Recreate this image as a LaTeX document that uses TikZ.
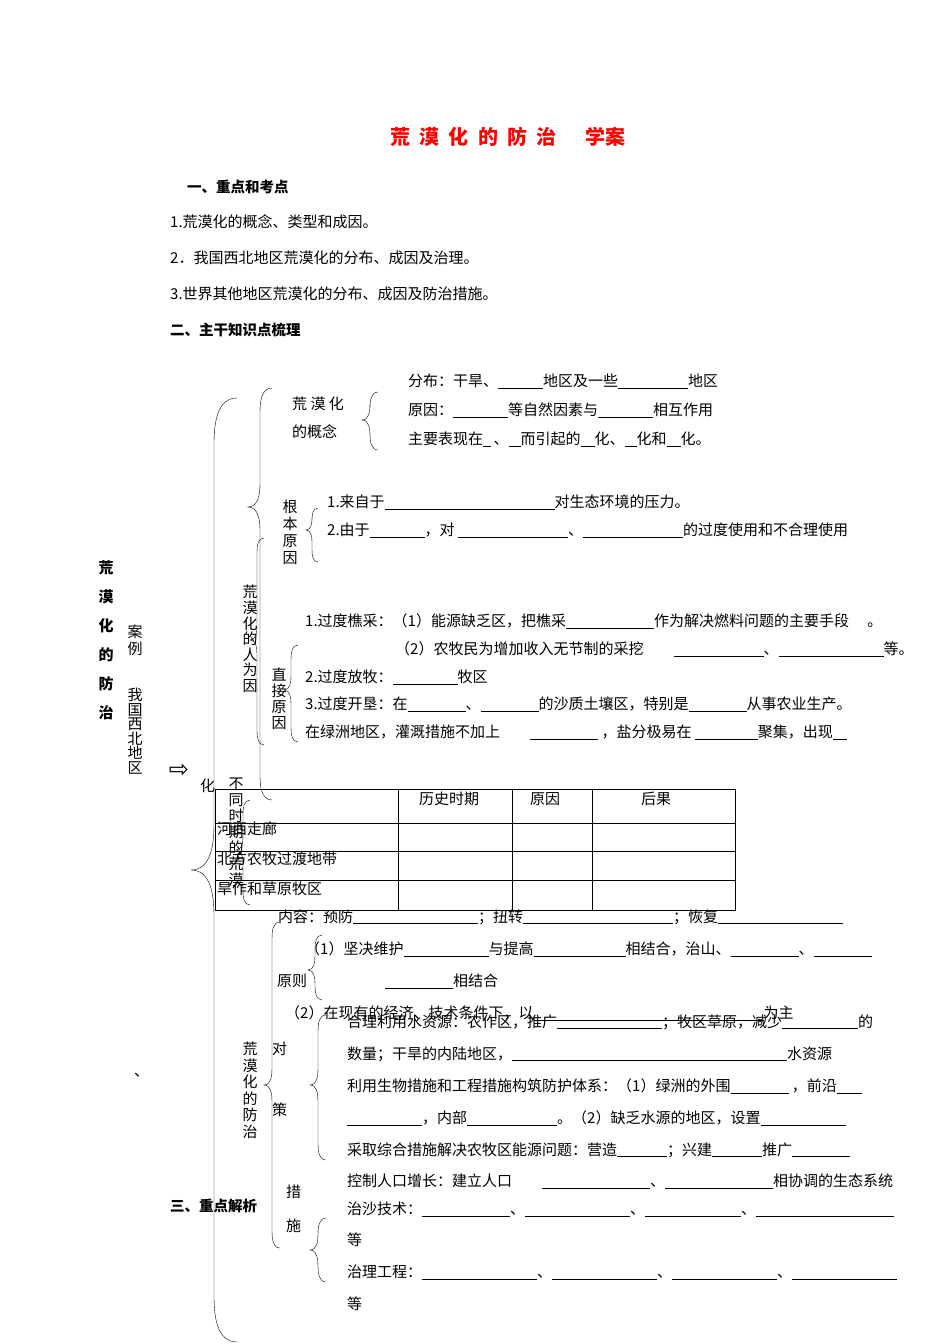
\documentclass[tikz,border=0pt]{standalone}
\usepackage{fontspec}
\setmainfont{Noto Sans CJK SC}
\newfontfamily\djv{DejaVu Sans}
\newcommand\bl[1]{\rule[-2pt]{#1pt}{0.7pt}}
\newcommand\mybrace[5]{\draw[thin] ({#1},{-(#2)}) to[out=180,in=90] ({#1-#5/2},{-(#2)-#5}) -- ({#1-#5/2},{-(#3)+#5}) to[out=-90,in=0] ({#1-#5},{-(#3)}) to[out=0,in=90] ({#1-#5/2},{-(#3)-#5}) -- ({#1-#5/2},{-(#4)+#5}) to[out=-90,in=180] ({#1},{-(#4)});}
\tikzset{tx/.style={anchor=west,inner sep=0pt,font=\fontsize{15}{16}\selectfont},
 hd/.style={tx,font=\fontsize{14.5}{16}\selectfont\bfseries},
 vt/.style={anchor=north,inner sep=0pt,align=center,font=\fontsize{15}{15.5}\selectfont}}
\begin{document}
\begin{tikzpicture}[x=1pt,y=1pt]
\useasboundingbox[fill=white] (0,0) rectangle (950,-1344);
\node[anchor=center,inner sep=0pt,text=red,font=\fontsize{20}{22}\selectfont\bfseries] (title) at (508,-137) {荒\ \ 漠\ \ 化\ \ 的\ \ 防\ \ 治\quad\ \ 学案};
\node[hd] (h1) at (187,-187) {一、重点和考点};
\node[tx] (p1) at (170,-222) {1.荒漠化的概念、类型和成因。};
\node[tx] (p2) at (170,-258) {2．我国西北地区荒漠化的分布、成因及治理。};
\node[tx] (p3) at (170,-294) {3.世界其他地区荒漠化的分布、成因及防治措施。};
\node[hd] (h2) at (170,-330) {二、主干知识点梳理};
\node[vt,font=\fontsize{15}{29}\selectfont\bfseries] (main) at (106,-560) {荒\\漠\\化\\的\\防\\治};
\node[vt,font=\fontsize{15}{17}\selectfont] (case) at (135,-625) {案\\例};
\node[vt,font=\fontsize{15}{14.5}\selectfont] (region) at (135,-688) {我\\国\\西\\北\\地\\区};
\node[anchor=center,inner sep=0pt,font=\djv\fontsize{24}{24}\selectfont] (arr) at (179,-771) {⇨};
% braces
\mybrace{237}{398}{870}{1342}{46}
\mybrace{272}{388}{507}{800}{24}
\mybrace{378}{392}{420}{450}{16}
\mybrace{318}{508}{530}{562}{12}
\mybrace{264}{538}{640}{745}{14}
\mybrace{298}{645}{690}{742}{14}
\mybrace{250}{800}{850}{905}{14}
\mybrace{280}{922}{1085}{1248}{16}
\mybrace{322}{935}{970}{1000}{14}
\mybrace{326}{1015}{1085}{1160}{16}
\mybrace{326}{1218}{1250}{1282}{16}
% concept
\node[tx] (c1) at (292,-404) {荒 漠 化};
\node[tx] (c2) at (292,-432) {的概念};
\node[tx] (d1) at (408,-381) {分布：干旱、\bl{45}地区及一些\bl{70}地区};
\node[tx] (d2) at (408,-410) {原因：\bl{55}等自然因素与\bl{55}相互作用};
\node[tx] (d3) at (408,-439) {主要表现在\bl{8}\,、\bl{12}而引起的\bl{14}化、\bl{12}化和\bl{14}化。};
\node[vt,font=\fontsize{15}{17}\selectfont] (gen) at (290,-500) {根\\本\\原\\因};
\node[tx] (g1) at (327,-502) {1.来自于\bl{170}对生态环境的压力。};
\node[tx] (g2) at (327,-530) {2.由于\bl{55}，对 \bl{110}、\bl{100}的过度使用和不合理使用};
\node[vt,font=\fontsize{15}{15.6}\selectfont] (ren) at (250,-585) {荒\\漠\\化\\的\\人\\为\\因};
\node[tx] (r1) at (305,-621) {1.过度樵采：（1）能源缺乏区，把樵采\bl{88}作为解决燃料问题的主要手段\quad\ 。};
\node[tx] (r2) at (395,-649) {（2）农牧民为增加收入无节制的采挖\qquad\bl{90}、\bl{105}等。};
\node[vt,font=\fontsize{15}{16}\selectfont] (zhi) at (279,-668) {直\\接\\原\\因};
\node[tx] (r3) at (305,-677) {2.过度放牧：\bl{65}牧区};
\node[tx] (r4) at (305,-704) {3.过度开垦：在\bl{58}、\bl{58}的沙质土壤区，特别是\bl{58}从事农业生产。};
\node[tx] (r5) at (305,-732) {在绿洲地区，灌溉措施不加上\qquad\bl{68}\ ，盐分极易在 \bl{63}聚集，出现\bl{14}};
% table
\node[tx] (hua) at (200,-786) {化};
\draw[thin] (215,-789) rectangle (735,-910);
\foreach \yy in {823,851,880} \draw[thin] (215,-\yy) -- (735,-\yy);
\foreach \xx in {398,512,592} \draw[thin] (\xx,-789) -- (\xx,-910);
\node[anchor=center,inner sep=0pt,font=\fontsize{15}{16}\selectfont] (t1) at (449,-799) {历史时期};
\node[anchor=center,inner sep=0pt,font=\fontsize{15}{16}\selectfont] (t2) at (545,-799) {原因};
\node[anchor=center,inner sep=0pt,font=\fontsize{15}{16}\selectfont] (t3) at (656,-799) {后果};
\node[tx] (t4) at (217,-829) {河西走廊};
\node[tx] (t5) at (217,-859) {北方农牧过渡地带};
\node[tx] (t6) at (217,-889) {旱作和草原牧区};
\node[vt,font=\fontsize{15}{16}\selectfont] (btq) at (236,-778) {不\\同\\时\\期\\的\\荒\\漠};
% prevention
\node[tx] (n1) at (278,-917) {内容：预防\bl{125}；扭转\bl{150}；恢复\bl{125}};
\node[tx] (y1) at (305,-949) {（1）坚决维护\bl{85}与提高\bl{92}相结合，治山、\bl{68}、\bl{58}};
\node[tx] (y2) at (385,-981) {\bl{68}相结合};
\node[tx] (yz) at (277,-981) {原则};
\node[tx] (y3) at (285,-1013) {（2）在现有的经济、技术条件下，以\bl{230}为主};
\node[tx] (w1) at (347,-1022) {合理利用水资源：农作区，推广\bl{105}；牧区草原，减少\bl{76}的};
\node[tx] (w2) at (347,-1054) {数量；干旱的内陆地区，\bl{275}水资源};
\node[vt,font=\fontsize{15}{16.5}\selectfont] (fz) at (250,-1042) {荒\\漠\\化\\的\\防\\治};
\node[tx] (dui) at (272,-1049) {对};
\node[tx] (ce) at (272,-1110) {策};
\node[tx] (w3) at (347,-1086) {利用生物措施和工程措施构筑防护体系：（1）绿洲的外围\bl{58}\ ，前沿\bl{25}};
\node[tx] (w4) at (347,-1118) {\bl{75}，内部\bl{90}。（2）缺乏水源的地区，设置\bl{85}};
\node[tx] (w5) at (347,-1150) {采取综合措施解决农牧区能源问题：营造\bl{50}；兴建\bl{50}推广\bl{58}};
\node[tx] (w6) at (347,-1181) {控制人口增长：建立人口\qquad\bl{108}、\bl{108}相协调的生态系统};
\node[tx] (cuo) at (286,-1192) {措};
\node[tx] (shi) at (286,-1226) {施};
\node[hd] (h3) at (170,-1206) {三、重点解析};
\node[tx] (s1) at (347,-1209) {治沙技术：\bl{88}、\bl{105}、\bl{96}、\bl{138}};
\node[tx] (s2) at (347,-1240) {等};
\node[tx] (s3) at (347,-1272) {治理工程：\bl{115}、\bl{105}、\bl{105}、\bl{105}};
\node[tx] (s4) at (347,-1304) {等};
\node[tx] (dun) at (134,-1075) {、};
\end{tikzpicture}
\end{document}
